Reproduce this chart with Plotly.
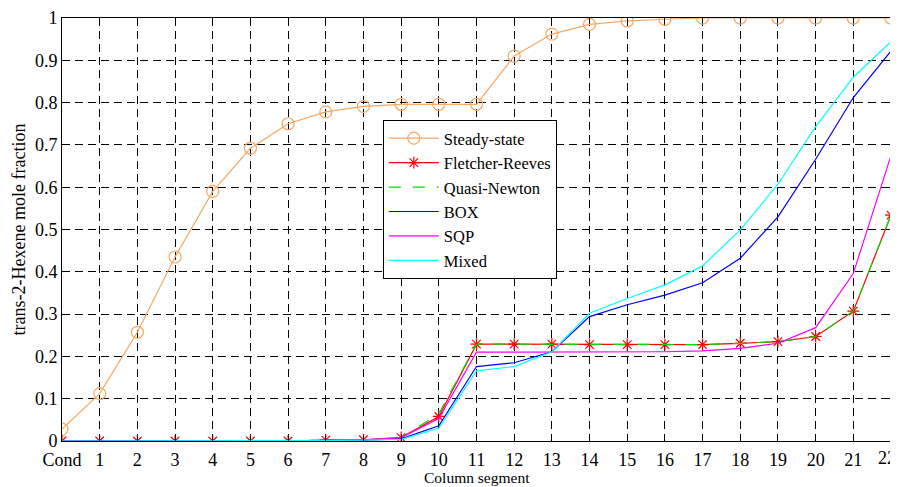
import plotly.graph_objects as go

segments = ["Cond"] + [str(i) for i in range(1, 23)]
xpos = list(range(23))

steady_state = [0.028, 0.112, 0.257, 0.435, 0.590, 0.692, 0.750, 0.778, 0.791, 0.796, 0.796, 0.796,
                0.910, 0.962, 0.985, 0.993, 0.997, 1.0, 1.0, 1.0, 1.0, 1.0, 1.0]
fletcher_reeves = [0, 0, 0, 0, 0, 0, 0, 0.002, 0.003, 0.008, 0.058, 0.229,
                   0.229, 0.229, 0.228, 0.228, 0.228, 0.228, 0.231, 0.235, 0.247, 0.307, 0.534]
quasi_newton = [0, 0, 0, 0, 0, 0, 0, 0.002, 0.003, 0.008, 0.064, 0.229,
                0.229, 0.229, 0.228, 0.228, 0.228, 0.228, 0.231, 0.235, 0.247, 0.307, 0.534]
box = [0, 0, 0, 0, 0, 0, 0, 0.001, 0.002, 0.005, 0.036, 0.176,
       0.185, 0.211, 0.294, 0.322, 0.345, 0.374, 0.432, 0.530, 0.666, 0.812, 0.922]
sqp = [0, 0, 0, 0, 0, 0, 0, 0.002, 0.003, 0.008, 0.053, 0.210,
       0.210, 0.210, 0.210, 0.210, 0.211, 0.213, 0.219, 0.231, 0.268, 0.396, 0.675]
mixed = [0, 0, 0, 0, 0, 0, 0, 0.001, 0.002, 0.004, 0.030, 0.166,
         0.176, 0.211, 0.302, 0.337, 0.369, 0.414, 0.499, 0.607, 0.743, 0.860, 0.944]
ytick_vals = [0, 0.1, 0.2, 0.3, 0.4, 0.5, 0.6, 0.7, 0.8, 0.9, 1]
ytick_text = ["0", "0.1", "0.2", "0.3", "0.4", "0.5", "0.6", "0.7", "0.8", "0.9", "1"]

font = "Liberation Serif, Times New Roman, serif"
FS = 18

fig = go.Figure()
fig.add_trace(go.Scatter(x=xpos, y=steady_state, name="Steady-state", mode="lines+markers",
                         line=dict(color="#F7A862", width=1.2),
                         marker=dict(symbol="circle-open", size=12, color="#F7A862", line=dict(width=1.2))))
fig.add_trace(go.Scatter(x=xpos, y=fletcher_reeves, name="Fletcher-Reeves", mode="lines+markers",
                         line=dict(color="#FF0000", width=1.2),
                         marker=dict(symbol="asterisk-open", size=10, color="#FF0000", line=dict(width=1.2, color="#FF0000"))))
fig.add_trace(go.Scatter(x=xpos, y=quasi_newton, name="Quasi-Newton", mode="lines",
                         line=dict(color="#00DD00", width=1.2, dash="12px,12px")))
fig.add_trace(go.Scatter(x=xpos, y=box, name="BOX", mode="lines",
                         line=dict(color="#0000FF", width=1.2)))
fig.add_trace(go.Scatter(x=xpos, y=sqp, name="SQP", mode="lines",
                         line=dict(color="#FF00FF", width=1.2)))
fig.add_trace(go.Scatter(x=xpos, y=mixed, name="Mixed", mode="lines",
                         line=dict(color="#00FFFF", width=1.2)))

axis_common = dict(showline=True, linecolor="black", linewidth=1, mirror="ticks",
                   ticks="inside", ticklen=5, tickcolor="black", automargin=False,
                   showgrid=True, gridcolor="black", gridwidth=1, griddash="8px,5px",
                   zeroline=False, tickfont=dict(family=font, size=FS, color="black"))

# the last tick label sits at the figure edge; it is drawn right-aligned so it stays visible
last_label = segments[-1]
axis_labels = segments[:-1] + [""]

# the page body adds an 8px offset, so the figure is sized 8px smaller
fig.update_layout(
    width=890, height=479,
    margin=dict(l=54, r=7, t=10, b=46),
    plot_bgcolor="white", paper_bgcolor="white",
    font=dict(family=font, size=FS, color="black"),
    xaxis=dict(range=[0, 22], tickvals=xpos, ticktext=axis_labels, ticklabelstandoff=2,
               **axis_common),
    yaxis=dict(range=[0, 1], tickvals=ytick_vals, ticktext=ytick_text,
               **axis_common),
    legend=dict(x=0.387, y=0.759, xanchor="left", yanchor="top",
                bgcolor="white", bordercolor="black", borderwidth=1,
                font=dict(family=font, size=16.5, color="black"),
                itemwidth=50, tracegroupgap=0),
    showlegend=True,
    annotations=[
        dict(text=last_label, xref="x", yref="paper", x=xpos[-1], y=0,
             xanchor="right", yanchor="top", xshift=6, yshift=-6, showarrow=False, borderpad=0,
             font=dict(family=font, size=FS, color="black")),
        dict(text="Column segment", xref="paper", yref="paper", x=0.5, y=-0.108,
             xanchor="center", yanchor="bottom", showarrow=False, borderpad=0,
             font=dict(family=font, size=15.5, color="black")),
        dict(text="trans-2-Hexene mole fraction", xref="paper", yref="paper", x=-0.052, y=0.5,
             xanchor="center", yanchor="middle", textangle=-90, showarrow=False,
             font=dict(family=font, size=FS, color="black")),
    ],
)

fig.write_html("out.html")
